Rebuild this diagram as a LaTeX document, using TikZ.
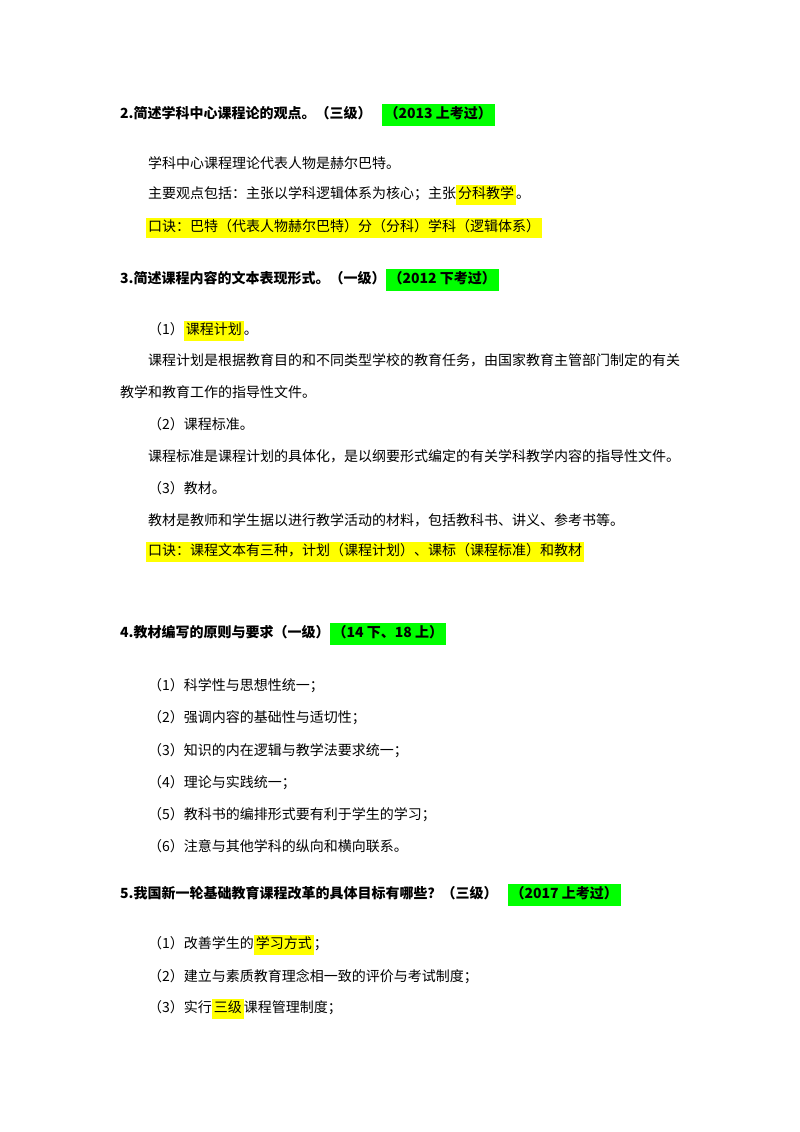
\documentclass[tikz,border=0pt]{standalone}
\usepackage{fontspec}
\setmainfont{Noto Sans CJK SC}
\XeTeXlinebreaklocale "zh"
\XeTeXlinebreakskip=0pt plus 3pt
\usepackage{xcolor}
\definecolor{hly}{RGB}{255,255,0}
\definecolor{hlg}{RGB}{0,255,0}
\newcommand{\hy}[1]{{\setlength{\fboxsep}{2pt}\colorbox{hly}{\strut #1}}}
\newcommand{\hg}[1]{{\setlength{\fboxsep}{3pt}\colorbox{hlg}{\strut #1}}}
\begin{document}
\begin{tikzpicture}[x=1pt,y=-1pt,
  txt/.style={anchor=west,inner sep=0pt,font=\fontsize{14}{16}\selectfont},
  head/.style={txt,font=\fontsize{14}{16}\selectfont\bfseries}]
\useasboundingbox[fill=white] (0,0) rectangle (800,1132);
\node[head] (h2) at (120,115) {2.简述学科中心课程论的观点。（三级）\hspace{10pt}\hg{（2013 上考过）}};
\node[txt] (a1) at (148,163) {学科中心课程理论代表人物是赫尔巴特。};
\node[txt] (a2) at (148,195) {主要观点包括：主张以学科逻辑体系为核心；主张\hy{分科教学}。};
\node[txt] (a3) at (146,228) {\hy{口诀：巴特（代表人物赫尔巴特）分（分科）学科（逻辑体系）}};
\node[head] (h3) at (120,280) {3.简述课程内容的文本表现形式。（一级）\hg{（2012 下考过）}};
\node[txt] (b1) at (148,331) {（1）\hy{课程计划}。};
\node[txt] (b2) at (148,360) {\makebox[612pt][s]{课程计划是根据教育目的和不同类型学校的教育任务，由国家教育主管部门制定的有关}};
\node[txt] (b3) at (120,392) {教学和教育工作的指导性文件。};
\node[txt] (b4) at (148,424) {（2）课程标准。};
\node[txt] (b5) at (148,456) {课程标准是课程计划的具体化，是以纲要形式编定的有关学科教学内容的指导性文件。};
\node[txt] (b6) at (148,488) {（3）教材。};
\node[txt] (b7) at (148,520) {教材是教师和学生据以进行教学活动的材料，包括教科书、讲义、参考书等。};
\node[txt] (b8) at (146,552) {\hy{口诀：课程文本有三种，计划（课程计划）、课标（课程标准）和教材}};
\node[head] (h4) at (120,634) {4.教材编写的原则与要求（一级）\hg{（14 下、18 上）}};
\node[txt] (c1) at (148,686) {（1）科学性与思想性统一；};
\node[txt] (c2) at (148,718) {（2）强调内容的基础性与适切性；};
\node[txt] (c3) at (148,751) {（3）知识的内在逻辑与教学法要求统一；};
\node[txt] (c4) at (148,783) {（4）理论与实践统一；};
\node[txt] (c5) at (148,815) {（5）教科书的编排形式要有利于学生的学习；};
\node[txt] (c6) at (148,846) {（6）注意与其他学科的纵向和横向联系。};
\node[head] (h5) at (120,895) {5.我国新一轮基础教育课程改革的具体目标有哪些？（三级）\hspace{10pt}\hg{（2017 上考过）}};
\node[txt] (d1) at (148,945) {（1）改善学生的\hy{学习方式}；};
\node[txt] (d2) at (148,977) {（2）建立与素质教育理念相一致的评价与考试制度；};
\node[txt] (d3) at (148,1009) {（3）实行\hy{三级}课程管理制度；};
\end{tikzpicture}
\end{document}
